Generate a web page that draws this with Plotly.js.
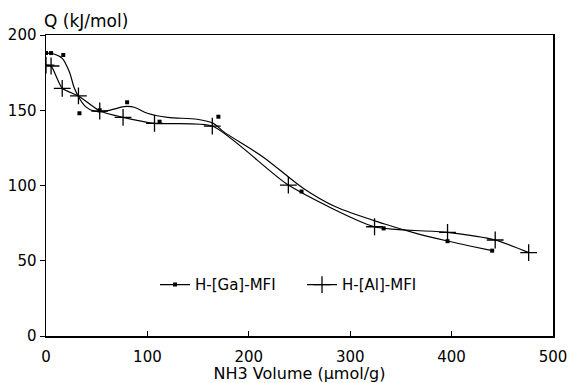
<!DOCTYPE html>
<html>
<head>
<meta charset="utf-8">
<script src="https://cdn.plot.ly/plotly-3.0.1.min.js"></script>
<style>html,body{margin:0;padding:0;background:#fff;}#chart{width:571px;height:383px;}</style>
</head>
<body>
<div id="chart"></div>
<script>
// H-[Ga]-MFI measured points
var gaX = [0, 5, 17, 33, 53, 80, 112, 170, 252, 333, 396, 440];
var gaY = [188, 188, 186.7, 148, 150, 155.3, 142.4, 145.7, 96, 71.5, 63, 56.7];
// H-[Ga]-MFI fitted curve
var gaCurveX = [0, 8, 16, 23, 28, 33, 39, 47, 54, 64, 77, 87, 100, 120, 149, 165, 175, 214, 254, 285, 334, 365, 396, 418, 440];
var gaCurveY = [188, 187.4, 184.5, 175.6, 164.6, 157.9, 152.4, 149.5, 149, 150.2, 152.4, 152, 148, 145.3, 144, 141.3, 135.8, 119, 98, 86, 74.4, 68.2, 63.1, 59.8, 56.7];
// H-[Al]-MFI measured points
var alX = [0, 5, 16, 32, 53, 76, 107, 164, 239, 324, 396, 443, 476];
var alY = [180, 179.4, 164.6, 159.5, 149.5, 145.3, 141.3, 139.5, 100.3, 72.6, 68.9, 63.8, 55.4];

var xTicks = [0, 100, 200, 300, 400, 500];
var yTicks = [0, 50, 100, 150, 200];

var FONT = 'DejaVu Sans, sans-serif';

var traces = [
  { // legend entry for Ga (line with dot)
    x: [null], y: [null], name: 'H-[Ga]-MFI', mode: 'lines+markers',
    line: {color: '#000', width: 1.2},
    marker: {symbol: 'square', size: 4, color: '#000'},
    hoverinfo: 'skip'
  },
  {
    x: gaCurveX, y: gaCurveY, mode: 'lines', showlegend: false,
    line: {color: '#000', width: 1.2, shape: 'spline', smoothing: 0.9}
  },
  {
    x: gaX, y: gaY, mode: 'markers', showlegend: false,
    marker: {symbol: 'square', size: 4, color: '#000'}
  },
  {
    x: alX, y: alY, name: 'H-[Al]-MFI', mode: 'lines+markers',
    line: {color: '#000', width: 1.2, shape: 'spline', smoothing: 0.6},
    marker: {symbol: 'cross-thin', size: 12, color: '#000', line: {color: '#000', width: 1.3}}
  }
];

var layout = {
  width: 571, height: 383,
  margin: {l: 46, r: 18, t: 35, b: 47, pad: 0},
  paper_bgcolor: '#fff', plot_bgcolor: '#fff',
  font: {family: FONT, size: 15, color: '#000'},
  showlegend: true,
  legend: {
    orientation: 'h', x: 0.215, y: 0.17, xanchor: 'left', yanchor: 'middle',
    bgcolor: 'rgba(0,0,0,0)', font: {family: FONT, size: 15, color: '#000'},
    entrywidth: 102, entrywidthmode: 'pixels', traceorder: 'normal'
  },
  xaxis: {
    range: [0, 500], tickvals: xTicks, ticktext: xTicks.map(String),
    ticks: 'inside', ticklen: 5, tickwidth: 1, tickcolor: '#000',
    showline: true, linecolor: '#000', linewidth: 1.5, mirror: true,
    showgrid: false, zeroline: false, ticklabelstandoff: 6,
    tickfont: {family: FONT, size: 15, color: '#000'},
    title: {text: 'NH3 Volume (μmol/g)', font: {family: FONT, size: 16, color: '#000'}, standoff: 15}
  },
  yaxis: {
    range: [0, 200], tickvals: yTicks, ticktext: yTicks.map(String),
    ticks: 'outside', ticklen: 5, tickwidth: 1, tickcolor: '#000',
    showline: true, linecolor: '#000', linewidth: 1.5, mirror: true,
    showgrid: false, zeroline: false,
    tickfont: {family: FONT, size: 15, color: '#000'}
  },
  annotations: [{
    text: 'Q (kJ/mol)', xref: 'paper', yref: 'paper', x: 0, y: 1,
    xanchor: 'left', yanchor: 'bottom', xshift: -4, yshift: 2, showarrow: false,
    font: {family: FONT, size: 17, color: '#000'}
  }]
};

Plotly.newPlot('chart', traces, layout, {displayModeBar: false, staticPlot: true});
</script>
</body>
</html>
